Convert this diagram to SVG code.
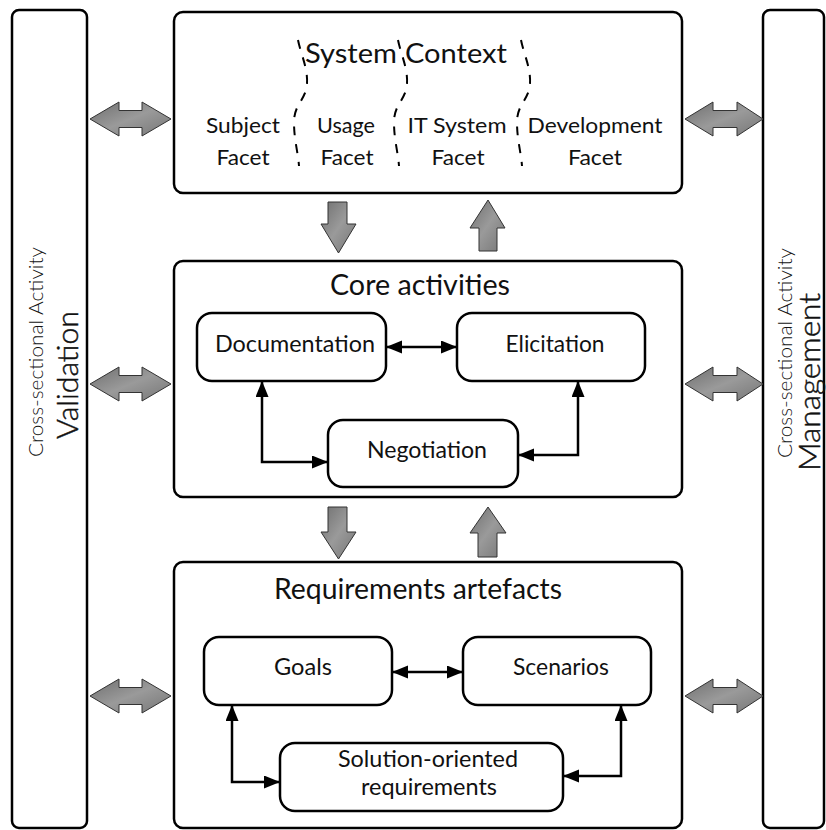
<svg xmlns="http://www.w3.org/2000/svg" width="826" height="830" viewBox="0 0 826 830">
<style>
.box{fill:#fff;stroke:#000;stroke-width:2.5}
.t{font-family:Lato,"Open Sans","Liberation Sans",sans-serif;fill:#111;text-anchor:middle}
.side{font-family:Lato,"Open Sans","Liberation Sans",sans-serif;fill:#111;text-anchor:middle;font-weight:300}
.sideb{font-family:Lato,"Open Sans","Liberation Sans",sans-serif;fill:#111;text-anchor:middle;font-weight:300;stroke:#111;stroke-width:0.45}
.con{fill:none;stroke:#000;stroke-width:2.5;marker-start:url(#ah);marker-end:url(#ah)}
.big{fill:url(#g);stroke:#333;stroke-width:1}
.dash{fill:none;stroke:#000;stroke-width:2;stroke-dasharray:9 9}
</style>
<defs>
<marker id="ah" markerUnits="userSpaceOnUse" markerWidth="17" markerHeight="14" refX="16" refY="6.5" orient="auto-start-reverse">
<path d="M0,0 L16,6.5 L0,13 z" fill="#000"/>
</marker>
<linearGradient id="g" x1="0" y1="0" x2="1" y2="1">
<stop offset="0" stop-color="#6f6f6f"/>
<stop offset="0.5" stop-color="#9a9a9a"/>
<stop offset="1" stop-color="#767676"/>
</linearGradient>
<path id="dl" d="M0,40 C3,55 10,68 9,84 C8,100 -4,104 -4,122 C-4,140 0,152 1,166"/>
</defs>

<g id="validation">
<rect class="box" x="12" y="10" width="75" height="818" rx="7"/>
<text class="side" font-size="20.5" textLength="210" lengthAdjust="spacingAndGlyphs" transform="translate(43,352) rotate(-90)">Cross-sectional Activity</text>
<text class="sideb" font-size="29" textLength="128" lengthAdjust="spacingAndGlyphs" transform="translate(78,375) rotate(-90)">Validation</text>
</g>

<g id="management">
<rect class="box" x="763" y="10" width="61" height="818" rx="7"/>
<text class="side" font-size="20.5" textLength="210" lengthAdjust="spacingAndGlyphs" transform="translate(792,353) rotate(-90)">Cross-sectional Activity</text>
<text class="sideb" font-size="29" textLength="178" lengthAdjust="spacingAndGlyphs" transform="translate(820,382) rotate(-90)">Management</text>
</g>

<g id="system-context">
<rect class="box" x="174" y="12" width="508" height="181" rx="9"/>
<use href="#dl" class="dash" x="298" y="0"/>
<use href="#dl" class="dash" x="398" y="0"/>
<use href="#dl" class="dash" x="521" y="0"/>
<text class="t" x="351" y="63" font-size="27" textLength="92" lengthAdjust="spacingAndGlyphs">System</text>
<text class="t" x="456" y="63" font-size="27" textLength="102" lengthAdjust="spacingAndGlyphs">Context</text>
<text class="t" x="243" y="133" font-size="22" textLength="74" lengthAdjust="spacingAndGlyphs">Subject</text>
<text class="t" x="243" y="165" font-size="22" textLength="53" lengthAdjust="spacingAndGlyphs">Facet</text>
<text class="t" x="346" y="133" font-size="22" textLength="58" lengthAdjust="spacingAndGlyphs">Usage</text>
<text class="t" x="347" y="165" font-size="22" textLength="53" lengthAdjust="spacingAndGlyphs">Facet</text>
<text class="t" x="457" y="133" font-size="22" textLength="99" lengthAdjust="spacingAndGlyphs">IT System</text>
<text class="t" x="458" y="165" font-size="22" textLength="53" lengthAdjust="spacingAndGlyphs">Facet</text>
<text class="t" x="595" y="133" font-size="22" textLength="135" lengthAdjust="spacingAndGlyphs">Development</text>
<text class="t" x="595" y="165" font-size="22" textLength="54" lengthAdjust="spacingAndGlyphs">Facet</text>
</g>

<g id="core-activities">
<rect class="box" x="174" y="261" width="508" height="236" rx="9"/>
<text class="t" x="420" y="295" font-size="28" textLength="180" lengthAdjust="spacingAndGlyphs">Core activities</text>
</g>
<g id="documentation">
<rect class="box" x="197" y="313" width="189" height="68" rx="15"/>
<text class="t" x="295" y="352" font-size="23" textLength="160" lengthAdjust="spacingAndGlyphs">Documentation</text>
</g>
<g id="elicitation">
<rect class="box" x="457" y="313" width="188" height="68" rx="15"/>
<text class="t" x="555" y="352" font-size="23" textLength="99" lengthAdjust="spacingAndGlyphs">Elicitation</text>
</g>
<g id="negotiation">
<rect class="box" x="328" y="420" width="190" height="67" rx="15"/>
<text class="t" x="427" y="458" font-size="23" textLength="120" lengthAdjust="spacingAndGlyphs">Negotiation</text>
</g>

<g id="requirements-artefacts">
<rect class="box" x="174" y="562" width="508" height="266" rx="9"/>
<text class="t" x="418" y="599" font-size="28" textLength="288" lengthAdjust="spacingAndGlyphs">Requirements artefacts</text>
</g>
<g id="goals">
<rect class="box" x="204" y="637" width="188" height="68" rx="15"/>
<text class="t" x="303" y="675" font-size="23" textLength="58" lengthAdjust="spacingAndGlyphs">Goals</text>
</g>
<g id="scenarios">
<rect class="box" x="463" y="637" width="188" height="68" rx="15"/>
<text class="t" x="561" y="675" font-size="23" textLength="96" lengthAdjust="spacingAndGlyphs">Scenarios</text>
</g>
<g id="solution-oriented">
<rect class="box" x="280" y="743" width="283" height="68" rx="15"/>
<text class="t" x="428" y="767" font-size="23" textLength="180" lengthAdjust="spacingAndGlyphs">Solution-oriented</text>
<text class="t" x="429" y="795" font-size="23" textLength="136" lengthAdjust="spacingAndGlyphs">requirements</text>
</g>

<g id="connectors">
<path class="con" d="M386,347 H457"/>
<path class="con" d="M262,381 V462 H328"/>
<path class="con" d="M578,381 V455 H518"/>
<path class="con" d="M392,672 H463"/>
<path class="con" d="M232,705 V782 H280"/>
<path class="con" d="M621,705 V776 H563"/>

<polygon class="big" points="328,202 347,202 347,224 356,224 338.5,253 321,224 328,224"/>
<polygon class="big" points="488,200 505,228 497,228 497,251 479,251 479,228 470,228"/>
<polygon class="big" points="328,507 347,507 347,532 356,532 338.5,559 321,532 328,532"/>
<polygon class="big" points="488,507 506,533 497,533 497,557 478,557 478,533 470,533"/>

<polygon class="big" points="90,119 119,102 119,110.5 142,110.5 142,102 171,119 142,136 142,127.5 119,127.5 119,136"/>
<polygon class="big" points="90,384 119,367 119,375.5 142,375.5 142,367 171,384 142,401 142,392.5 119,392.5 119,401"/>
<polygon class="big" points="90,696 119,679 119,687.5 142,687.5 142,679 171,696 142,713 142,704.5 119,704.5 119,713"/>

<polygon class="big" points="685,119 713,102 713,110.5 737,110.5 737,102 763,119 737,136 737,127.5 713,127.5 713,136"/>
<polygon class="big" points="685,384 713,367 713,375.5 737,375.5 737,367 763,384 737,401 737,392.5 713,392.5 713,401"/>
<polygon class="big" points="685,696 713,679 713,687.5 737,687.5 737,679 763,696 737,713 737,704.5 713,704.5 713,713"/>
</g>
</svg>
